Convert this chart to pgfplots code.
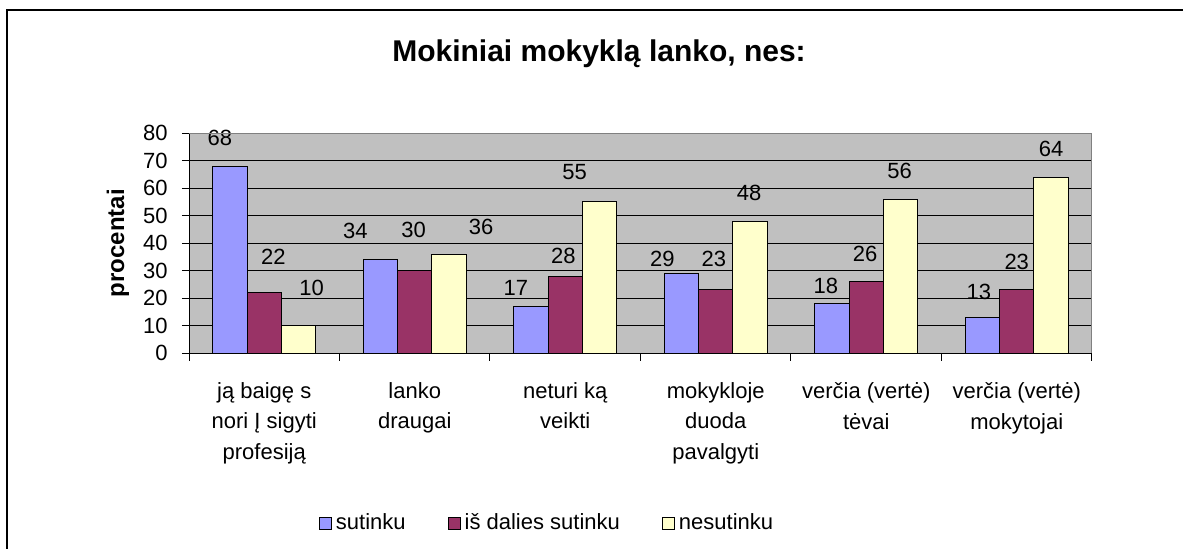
\documentclass[border=0pt]{standalone}
\usepackage{pgfplots}
\pgfplotsset{compat=1.18}
\usepackage{pgfplotstable}
\usepackage{fontspec}
\setmainfont{Liberation Sans}
\definecolor{cA}{HTML}{9999FF}
\definecolor{cB}{HTML}{993366}
\definecolor{cC}{HTML}{FFFFCC}
\definecolor{bg}{HTML}{C0C0C0}
\definecolor{fr}{HTML}{808080}

\pgfplotstableread{
x y
0 68
1 34
2 17
3 29
4 18
5 13
}\tA
\pgfplotstableread{
x y
0 22
1 30
2 28
3 23
4 26
5 23
}\tB
\pgfplotstableread{
x y
0 10
1 36
2 55
3 48
4 56
5 64
}\tC
% data label positions (baseline), as placed in the reference
\pgfplotstableread{
lx ly lab
-0.295 75.46 68
0.605 41.68 34
1.672 20.82 17
2.645 31.58 29
3.732 21.57 18
4.748 19.48 13
0.060 32.22 22
0.993 42.04 30
1.987 32.40 28
2.987 31.40 23
3.993 33.42 26
5.000 30.42 23
0.315 20.95 10
1.441 42.95 36
2.062 63.04 55
3.222 55.46 48
4.222 63.42 56
5.229 71.42 64
}\tL

\begin{document}
\begin{tikzpicture}
\path[use as bounding box] (0,0) rectangle (591.5pt,-274pt);
\draw[black, line width=0.6pt] (3.5pt,-290pt) -- (3.5pt,-5pt) -- (600pt,-5pt);
\node[anchor=base, font=\fontsize{15}{18}\selectfont\bfseries] at (299.5pt,-30.8pt) {Mokiniai mokyklą lanko, nes:};
\begin{axis}[
  at={(94.5pt,-176.5pt)}, anchor=south west,
  scale only axis, width=451.5pt, height=110pt,
  clip=false,
  xmin=-0.5, xmax=5.5, ymin=0, ymax=80,
  ytick={0,10,...,80},
  xtick={0,...,5},
  xticklabels={{ją baigę s\\nori Į sigyti\\profesiją},{lanko\\draugai},{neturi ką\\veikti},{mokykloje\\duoda\\pavalgyti},{verčia (vertė)\\tėvai},{verčia (vertė)\\mokytojai}},
  axis x line*=bottom, axis y line*=left,
  axis line style={-, black, line width=0.5pt},
  axis background/.style={fill=bg},
  tick align=outside,
  xtick style={draw=none},
  ytick style={black, line width=0.5pt},
  major tick length=3.5pt,
  ymajorgrids, grid style={black, line width=0.5pt},
  /pgf/number format/assume math mode=true,
  yticklabel style={font=\fontsize{11}{13}\selectfont, inner sep=0pt, anchor=east, xshift=-7pt},
  xticklabel style={align=center, font=\fontsize{11}{15.3}\selectfont, inner sep=0pt, anchor=north, yshift=-11pt},
  ylabel={procentai},
  every axis y label/.style={at={(axis description cs:-0.0786,0.5)}, rotate=90, anchor=center, font=\fontsize{12}{14}\selectfont\bfseries},
  legend image code/.code={\draw[#1, draw=black, line width=0.5pt] (0pt,-3pt) rectangle (6pt,3pt);},
  legend style={at={(0.3976,-0.773)}, anchor=center, draw=none, fill=none, legend columns=3,
    font=\fontsize{11}{13}\selectfont, cells={anchor=west},
    /tikz/every even column/.append style={column sep=19pt}},
  after end axis/.code={
    \draw[fr, line width=0.5pt] (rel axis cs:0,1) -- (rel axis cs:1,1) -- (rel axis cs:1,0);
    \foreach \t in {-0.5,0.5,1.5,2.5,3.5,4.5,5.5} {\draw[black, line width=0.5pt] (axis cs:\t,0) -- ++(0,-4pt);}
  },
]
\addplot[ybar, bar width=17.2pt, bar shift=-17.2pt, fill=cA, draw=black, line width=0.5pt] table[x=x, y=y] {\tA};
\addplot[ybar, bar width=17.2pt, bar shift=0pt, fill=cB, draw=black, line width=0.5pt] table[x=x, y=y] {\tB};
\addplot[ybar, bar width=17.2pt, bar shift=17.2pt, fill=cC, draw=black, line width=0.5pt] table[x=x, y=y] {\tC};
\legend{sutinku, iš dalies sutinku, nesutinku}
\addplot[forget plot, only marks, mark=none, point meta=explicit symbolic,
  nodes near coords, nodes near coords align={center},
  every node near coord/.append style={font=\fontsize{11}{13}\selectfont, inner sep=0pt, anchor=base}]
  table[x=lx, y=ly, meta=lab] {\tL};
\end{axis}
\end{tikzpicture}
\end{document}
